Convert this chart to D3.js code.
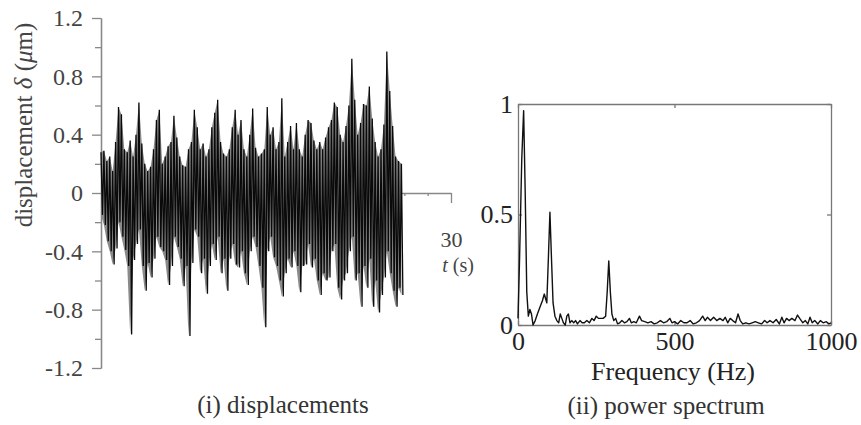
<!DOCTYPE html>
<html>
<head>
<meta charset="utf-8">
<script src="https://cdn.jsdelivr.net/npm/d3@7/dist/d3.min.js"></script>
<style>
  body { margin: 0; background: #fff; }
  svg text { font-family: "Liberation Serif", "DejaVu Serif", serif; }
</style>
</head>
<body>
<script>
// (i) displacement record: upper / lower excursion every dt seconds (um)
const dt = 0.25;
const dispHigh = [0.28, 0.29, 0.22, 0.25, 0.15, 0.35, 0.59, 0.54, 0.30, 0.28,
  0.36, 0.25, 0.40, 0.62, 0.34, 0.20, 0.15, 0.18, 0.30, 0.50,
  0.57, 0.20, 0.25, 0.32, 0.35, 0.53, 0.38, 0.25, 0.19, 0.18,
  0.30, 0.35, 0.57, 0.45, 0.30, 0.34, 0.25, 0.30, 0.45, 0.55,
  0.64, 0.35, 0.27, 0.25, 0.30, 0.45, 0.57, 0.40, 0.50, 0.30,
  0.25, 0.40, 0.58, 0.31, 0.25, 0.27, 0.30, 0.59, 0.40, 0.45,
  0.30, 0.35, 0.65, 0.25, 0.35, 0.46, 0.30, 0.48, 0.30, 0.25,
  0.40, 0.50, 0.48, 0.36, 0.30, 0.35, 0.30, 0.38, 0.45, 0.50,
  0.62, 0.59, 0.40, 0.35, 0.46, 0.60, 0.92, 0.64, 0.40, 0.48,
  0.61, 0.60, 0.73, 0.51, 0.35, 0.25, 0.30, 0.47, 0.97, 0.70,
  0.46, 0.25, 0.22, 0.20];
const dispLow = [-0.15, -0.22, -0.33, -0.40, -0.49, -0.38, -0.20, -0.30, -0.39, -0.50,
  -0.97, -0.46, -0.35, -0.25, -0.50, -0.67, -0.48, -0.58, -0.45, -0.30,
  -0.37, -0.40, -0.46, -0.63, -0.50, -0.30, -0.37, -0.45, -0.64, -0.50,
  -0.98, -0.48, -0.25, -0.30, -0.55, -0.45, -0.69, -0.50, -0.35, -0.46,
  -0.30, -0.55, -0.45, -0.67, -0.45, -0.35, -0.49, -0.51, -0.40, -0.55,
  -0.63, -0.40, -0.30, -0.37, -0.50, -0.65, -0.92, -0.40, -0.30, -0.44,
  -0.50, -0.60, -0.71, -0.55, -0.45, -0.51, -0.40, -0.50, -0.68, -0.50,
  -0.49, -0.35, -0.51, -0.45, -0.60, -0.70, -0.55, -0.60, -0.58, -0.40,
  -0.35, -0.65, -0.73, -0.60, -0.55, -0.40, -0.30, -0.60, -0.55, -0.78,
  -0.50, -0.65, -0.45, -0.78, -0.60, -0.82, -0.70, -0.58, -0.40, -0.55,
  -0.67, -0.78, -0.65, -0.70];
const dispTicks = [-1.2, -0.8, -0.4, 0, 0.4, 0.8, 1.2];
const dispMinor = [-1.0, -0.6, -0.2, 0.2, 0.6, 1.0];

// (ii) normalised power spectrum
const freqHz = [0, 5, 12, 18, 23, 28, 33, 38, 43, 48, 55, 62, 70, 78, 84, 88, 92, 97, 102, 107,
  112, 118, 124, 130, 135, 140, 145, 151, 156, 161, 166, 172, 178, 184, 190, 198, 205, 212, 220, 228,
  236, 243, 250, 257, 265, 272, 280, 285, 290, 295, 300, 306, 312, 318, 325, 332, 340, 348, 356, 362,
  370, 378, 388, 395, 405, 415, 425, 435, 445, 455, 465, 475, 485, 492, 500, 510, 520, 530, 540, 550,
  560, 570, 580, 590, 598, 605, 615, 625, 635, 645, 655, 662, 670, 678, 686, 695, 703, 710, 718, 728,
  738, 748, 758, 768, 778, 788, 796, 805, 815, 825, 835, 843, 850, 858, 866, 875, 885, 893, 900, 910,
  918, 926, 933, 940, 948, 958, 966, 975, 985, 993, 1000];
const power = [0.03, 0.30, 0.75, 0.97, 0.60, 0.15, 0.04, 0.07, 0.05, 0.00, 0.02, 0.05, 0.08, 0.11, 0.14, 0.12, 0.10, 0.30, 0.51, 0.30,
  0.10, 0.04, 0.02, 0.01, 0.05, 0.03, 0.01, 0.00, 0.04, 0.05, 0.01, 0.02, 0.01, 0.02, 0.005, 0.02, 0.01, 0.01, 0.02, 0.01,
  0.03, 0.02, 0.04, 0.03, 0.03, 0.03, 0.04, 0.15, 0.29, 0.15, 0.05, 0.02, 0.03, 0.005, 0.01, 0.02, 0.01, 0.015, 0.03, 0.01,
  0.015, 0.01, 0.04, 0.02, 0.015, 0.01, 0.015, 0.005, 0.01, 0.02, 0.01, 0.015, 0.03, 0.01, 0.015, 0.005, 0.02, 0.01, 0.01, 0.02,
  0.005, 0.01, 0.02, 0.04, 0.02, 0.035, 0.02, 0.035, 0.02, 0.03, 0.02, 0.035, 0.01, 0.03, 0.02, 0.01, 0.05, 0.02, 0.005, 0.01,
  0.005, 0.01, 0.015, 0.01, 0.005, 0.02, 0.01, 0.02, 0.01, 0.025, 0.005, 0.035, 0.01, 0.03, 0.02, 0.03, 0.02, 0.045, 0.03, 0.01,
  0.02, 0.005, 0.035, 0.01, 0.02, 0.005, 0.02, 0.01, 0.015, 0.005, 0.01];
const freqTicks = [0, 500, 1000];
const powerTicks = [0, 0.5, 1];

const svg = d3.select("body").append("svg")
  .attr("width", 861)
  .attr("height", 425);

// ---------- (i) displacements ----------
const xL = d3.scaleLinear().domain([0, 30]).range([101, 451]);
const yL = d3.scaleLinear().domain([-1.2, 1.2]).range([368, 18]);

const styleAxis = (g, col) => {
  g.selectAll(".domain").attr("stroke", col).attr("stroke-width", 1.3);
  g.selectAll(".tick line").attr("stroke", col).attr("stroke-width", 1.3);
};

svg.append("g")
  .attr("transform", "translate(" + xL(0) + ",0)")
  .call(d3.axisLeft(yL).tickValues(dispMinor).tickSize(6).tickSizeOuter(0).tickFormat(""))
  .call(g => styleAxis(g, "#888"));

svg.append("g")
  .attr("transform", "translate(" + xL(0) + ",0)")
  .call(d3.axisLeft(yL).tickValues(dispTicks).tickSize(9).tickPadding(9).tickSizeOuter(0)
    .tickFormat(d => d === 0 ? "0" : d.toFixed(1)))
  .call(g => styleAxis(g, "#888"))
  .call(g => g.selectAll("text").attr("font-size", 24).attr("fill", "#444")
    .attr("font-family", "Liberation Serif, serif"));

svg.append("g")
  .attr("transform", "translate(0," + yL(0) + ")")
  .call(d3.axisBottom(xL).tickValues(d3.range(2, 30, 2)).tickSize(3).tickSizeOuter(0).tickFormat(""))
  .call(g => styleAxis(g, "#888"));

svg.append("g")
  .attr("transform", "translate(0," + yL(0) + ")")
  .call(d3.axisBottom(xL).tickValues([30]).tickSize(10).tickPadding(28).tickSizeOuter(0))
  .call(g => styleAxis(g, "#888"))
  .call(g => g.select(".domain").remove())
  .call(g => g.selectAll("text").attr("font-size", 22).attr("fill", "#444")
    .attr("font-family", "Liberation Serif, serif"));

const dispPts = [];
dispHigh.forEach((h, i) => {
  dispPts.push([i * dt, h]);
  dispPts.push([i * dt + dt / 2, dispLow[i]]);
});

// grey envelope underneath, dense black trace on top
svg.append("path")
  .datum(dispHigh.map((h, i) => [i * dt, h, dispLow[i]]))
  .attr("fill", "#8a8a8a")
  .attr("d", d3.area().x(d => xL(d[0])).y0(d => yL(d[2])).y1(d => yL(d[1])));

svg.append("path")
  .datum(dispPts)
  .attr("fill", "none")
  .attr("stroke", "#0a0a0a")
  .attr("stroke-width", 1.3)
  .attr("d", d3.line().x(d => xL(d[0])).y(d => yL(d[1])));

const tLabel = svg.append("text")
  .attr("x", 458).attr("y", 272)
  .attr("text-anchor", "middle")
  .attr("font-size", 20).attr("fill", "#444");
tLabel.append("tspan").attr("font-style", "italic").text("t");
tLabel.append("tspan").text(" (s)");

const yTitle = svg.append("text")
  .attr("transform", "translate(32,125) rotate(-90)")
  .attr("text-anchor", "middle")
  .attr("font-size", 25).attr("fill", "#444");
yTitle.append("tspan").text("displacement ");
yTitle.append("tspan").attr("font-style", "italic").text("δ");
yTitle.append("tspan").text(" (");
yTitle.append("tspan").attr("font-style", "italic").text("μ");
yTitle.append("tspan").text("m)");

svg.append("text")
  .attr("x", 283).attr("y", 413)
  .attr("text-anchor", "middle")
  .attr("font-size", 25).attr("fill", "#333")
  .text("(i) displacements");

// ---------- (ii) power spectrum ----------
const xR = d3.scaleLinear().domain([0, 1000]).range([518, 831]);
const yR = d3.scaleLinear().domain([0, 1]).range([325, 104]);

const rightText = g => g.selectAll("text").attr("font-size", 26).attr("fill", "#222")
  .attr("font-family", "Liberation Serif, serif");

svg.append("g")
  .attr("transform", "translate(0," + yR(0) + ")")
  .call(d3.axisBottom(xR).tickValues(freqTicks).tickSize(-4).tickPadding(7).tickSizeOuter(0)
    .tickFormat(d3.format("d")))
  .call(g => styleAxis(g, "#777"))
  .call(rightText);

svg.append("g")
  .attr("transform", "translate(0," + yR(1) + ")")
  .call(d3.axisTop(xR).tickValues(freqTicks).tickSize(-4).tickSizeOuter(0).tickFormat(""))
  .call(g => styleAxis(g, "#777"));

svg.append("g")
  .attr("transform", "translate(" + xR(0) + ",0)")
  .call(d3.axisLeft(yR).tickValues(powerTicks).tickSize(-4).tickPadding(5).tickSizeOuter(0)
    .tickFormat(d3.format("~g")))
  .call(g => styleAxis(g, "#777"))
  .call(rightText);

svg.append("g")
  .attr("transform", "translate(" + xR(1000) + ",0)")
  .call(d3.axisRight(yR).tickValues(powerTicks).tickSize(-4).tickSizeOuter(0).tickFormat(""))
  .call(g => styleAxis(g, "#777"));

svg.append("path")
  .datum(freqHz.map((f, i) => [f, power[i]]))
  .attr("fill", "none")
  .attr("stroke", "#111")
  .attr("stroke-width", 1.4)
  .attr("stroke-linejoin", "round")
  .attr("d", d3.line().x(d => xR(d[0])).y(d => yR(d[1])));

svg.append("text")
  .attr("x", 673).attr("y", 380)
  .attr("text-anchor", "middle")
  .attr("font-size", 26).attr("fill", "#222")
  .text("Frequency (Hz)");

svg.append("text")
  .attr("x", 666).attr("y", 414)
  .attr("text-anchor", "middle")
  .attr("font-size", 25).attr("fill", "#333")
  .text("(ii) power spectrum");
</script>
</body>
</html>
